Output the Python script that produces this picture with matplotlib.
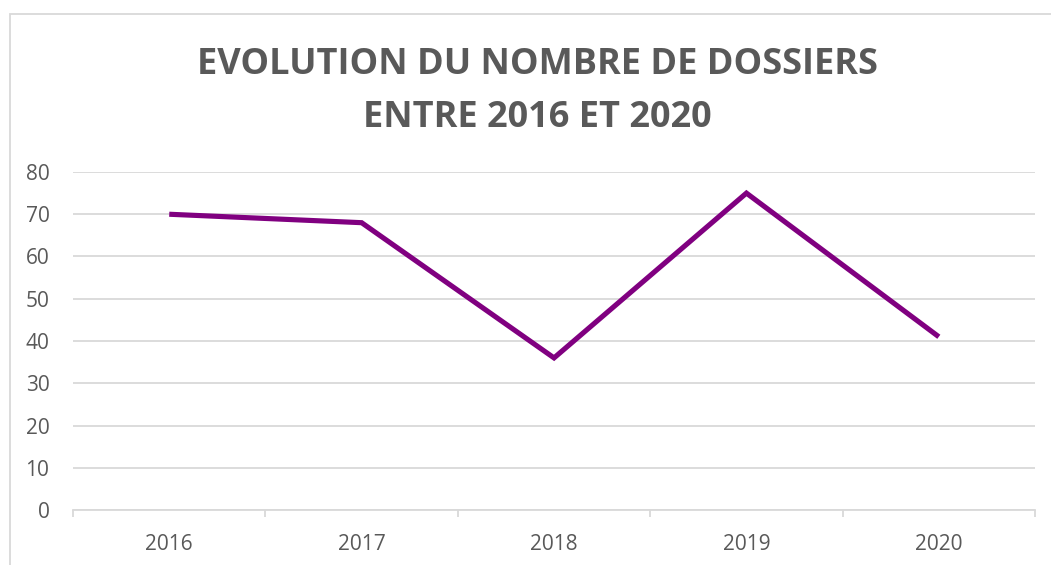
import matplotlib.pyplot as plt
from matplotlib.patches import Rectangle
from matplotlib.ticker import FixedLocator, NullFormatter, FixedFormatter

# data
years = ['2016', '2017', '2018', '2019', '2020']
dossiers = [70, 68, 36, 75, 41]
y_ticks = [0, 10, 20, 30, 40, 50, 60, 70, 80]

title = 'EVOLUTION DU NOMBRE DE DOSSIERS\nENTRE 2016 ET 2020'

grey_text = '#595959'
grid_col = '#d9d9d9'
line_col = '#800080'

plt.rcParams['font.family'] = ['Open Sans', 'DejaVu Sans']

fig = plt.figure(figsize=(10.51, 5.65), dpi=100)
ax = fig.add_axes([0.0695, 0.0973, 0.9153, 0.5983])

# outer chart border (cut by the image edges on right and bottom)
fig.patches.append(Rectangle((10 / 1051, -0.1), 1.2, 1 - 14 / 565 + 0.1,
                             transform=fig.transFigure, fill=False,
                             edgecolor=grid_col, linewidth=1.3, zorder=0))

x = list(range(len(years)))
ax.plot(x, dossiers, color=line_col, linewidth=3.7, solid_joinstyle='miter',
        solid_capstyle='butt', zorder=3)

ax.set_xlim(-0.5, len(years) - 0.5)
ax.set_ylim(0, 80)
ax.set_yticks(y_ticks)
ax.yaxis.grid(True, color=grid_col, linewidth=1.3)
ax.set_axisbelow(True)

# category labels centered, tick marks on the boundaries
ax.xaxis.set_major_locator(FixedLocator([i - 0.5 for i in range(len(years) + 1)]))
ax.xaxis.set_major_formatter(NullFormatter())
ax.xaxis.set_minor_locator(FixedLocator(x))
ax.xaxis.set_minor_formatter(FixedFormatter(years))
ax.tick_params(axis='x', which='major', length=5, width=1.3, color=grid_col, direction='out')
ax.tick_params(axis='x', which='minor', length=0, pad=17, labelsize=15, labelcolor=grey_text)
ax.tick_params(axis='y', length=0, pad=17, labelsize=15, labelcolor=grey_text)

for side in ['top', 'right', 'left']:
    ax.spines[side].set_visible(False)
ax.spines['bottom'].set_color(grid_col)
ax.spines['bottom'].set_linewidth(1.3)

fig.text(0.511, 0.838, title, ha='center', va='center', fontsize=26,
         fontweight='bold', color=grey_text, linespacing=1.6)

fig.savefig('out.png', dpi=100)
